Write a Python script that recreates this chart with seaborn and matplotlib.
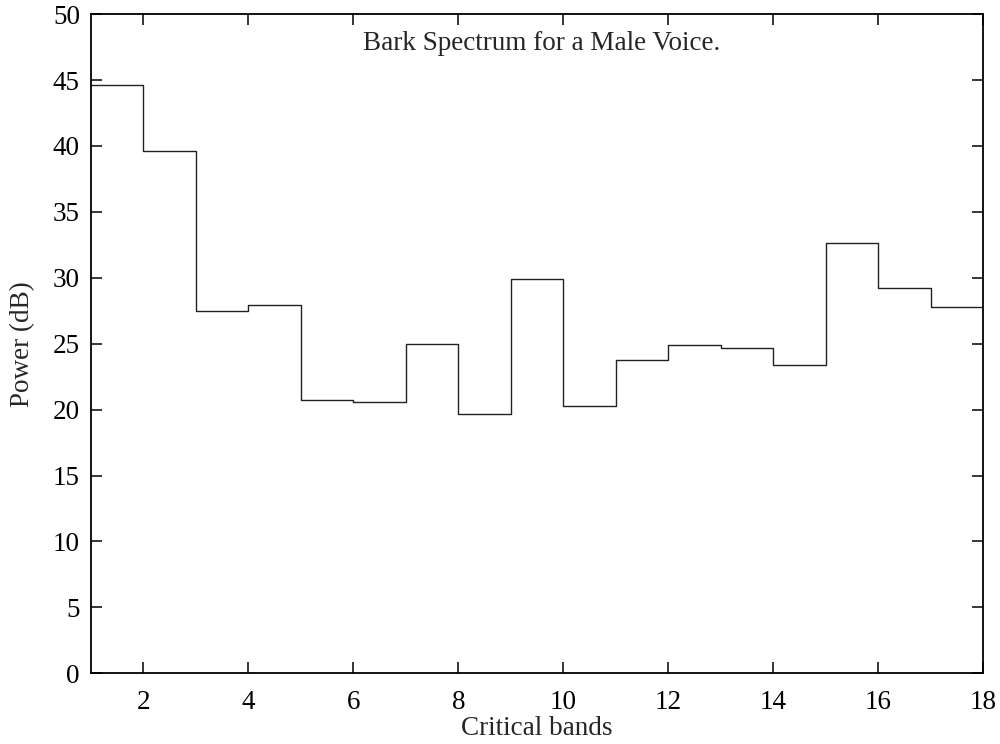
import numpy as np
import pandas as pd
import matplotlib
matplotlib.use("Agg")
import matplotlib.pyplot as plt
import seaborn as sns

# Critical band edges (Bark) and the mean power in each band (dB)
band_edges = list(range(1, 19))
band_power = [44.6, 39.6, 27.5, 27.9, 20.7, 20.6, 24.95, 19.65, 29.9,
              20.25, 23.8, 24.9, 24.65, 23.4, 32.65, 29.25, 27.75]
y_ticks = [0, 5, 10, 15, 20, 25, 30, 35, 40, 45, 50]
x_ticks = [2, 4, 6, 8, 10, 12, 14, 16, 18]

sns.set_style("ticks")
plt.rcParams["font.family"] = ["Liberation Serif", "DejaVu Serif"]
FS = 19.5

# Step outline: each band value is held until the next band edge
df = pd.DataFrame({
    "band": band_edges,
    "power": band_power + [band_power[-1]],
})

fig = plt.figure(figsize=(10, 7.44), dpi=100)
ax = fig.add_axes([0.091, 0.095, 0.892, 0.886])

sns.lineplot(data=df, x="band", y="power", drawstyle="steps-post",
             color="#222222", linewidth=1.0, ax=ax)

ax.set_xlim(1, 18)
ax.set_ylim(0, 50)
ax.set_xticks(x_ticks)
ax.set_yticks(y_ticks)
ax.tick_params(direction="in", length=8, width=1.1, top=True, right=True,
               labelsize=FS, colors="black", pad=8)
ax.tick_params(axis="x", pad=12)
for s in ax.spines.values():
    s.set_visible(True)
    s.set_linewidth(1.3)
    s.set_color("black")

ax.set_xlabel("Critical bands", fontsize=FS, labelpad=1)
ax.set_ylabel("Power (dB)", fontsize=FS, labelpad=13)

ax.text(0.505, 0.975, "Bark Spectrum for a Male Voice.", transform=ax.transAxes,
        ha="center", va="top", fontsize=FS)

fig.savefig("out.png", dpi=100)
